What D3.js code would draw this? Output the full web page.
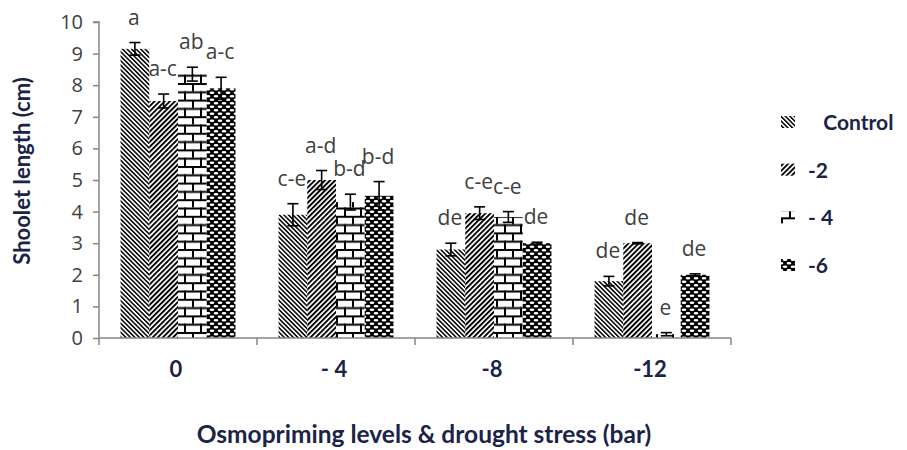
<!DOCTYPE html>
<html>
<head>
<meta charset="utf-8">
<script src="https://cdn.jsdelivr.net/npm/d3@7"></script>
<style>
  html, body { margin: 0; padding: 0; background: #fff; }
  svg { display: block; }
</style>
</head>
<body>
<svg id="chart" width="907" height="450"></svg>
<script>
// ---- data ----
const categories = ["0", "- 4", "-8", "-12"];
const seriesNames = ["Control", "-2", "- 4", "-6"];
const legendLabels = ["   Control", "-2", "- 4", "-6"];
const valControl = [9.15, 3.9, 2.8, 1.8];
const valM2      = [7.5, 5.0, 3.95, 3.0];
const valM4      = [8.35, 4.3, 3.83, 0.12];
const valM6      = [7.9, 4.5, 3.0, 2.0];
const errControl = [0.2, 0.35, 0.2, 0.15];
const errM2      = [0.22, 0.3, 0.2, 0.02];
const errM4      = [0.22, 0.25, 0.17, 0.05];
const errM6      = [0.35, 0.45, 0.03, 0.03];
const lblControl = ["a", "c-e", "de", "de"];
const lblM2      = ["a-c", "a-d", "c-e", "de"];
const lblM4      = ["ab", "b-d", "c-e", "e"];
const lblM6      = ["a-c", "b-d", "de", "de"];
const yTicks = [0,1,2,3,4,5,6,7,8,9,10];

const values = [valControl, valM2, valM4, valM6];
const errors = [errControl, errM2, errM4, errM6];
const labels = [lblControl, lblM2, lblM4, lblM6];

// ---- layout ----
const svg = d3.select("#chart");
const pLeft = 99, pRight = 731, pTop = 22, pBottom = 338;
const axisColor = "#868686";
const titleColor = "#1a2348";
const textColor = "#404040";

const x0 = d3.scaleBand().domain(categories).range([pLeft, pRight]).padding(0);
const x1 = d3.scaleBand().domain(seriesNames).range([0, x0.bandwidth()])
  .paddingInner(0).paddingOuter(0.75);
const y = d3.scaleLinear().domain([0, 10]).range([pBottom, pTop]);

// ---- patterns ----
const defs = svg.append("defs");
const p0 = defs.append("pattern").attr("id", "pat0").attr("patternUnits", "userSpaceOnUse")
  .attr("width", 3.2).attr("height", 3.2).attr("patternTransform", "rotate(-45)");
p0.append("rect").attr("width", 3.2).attr("height", 3.2).attr("fill", "#fff");
p0.append("rect").attr("width", 1.5).attr("height", 3.2).attr("fill", "#000");
const p1 = defs.append("pattern").attr("id", "pat1").attr("patternUnits", "userSpaceOnUse")
  .attr("width", 3.6).attr("height", 3.6).attr("patternTransform", "rotate(45)");
p1.append("rect").attr("width", 3.6).attr("height", 3.6).attr("fill", "#fff");
p1.append("rect").attr("width", 1.9).attr("height", 3.6).attr("fill", "#000");
const p2 = defs.append("pattern").attr("id", "pat2").attr("patternUnits", "userSpaceOnUse")
  .attr("width", 16).attr("height", 16.6);
p2.append("rect").attr("width", 16).attr("height", 16.6).attr("fill", "#fff");
p2.append("rect").attr("x", 0).attr("y", 0).attr("width", 16).attr("height", 2).attr("fill", "#000");
p2.append("rect").attr("x", 0).attr("y", 8.3).attr("width", 16).attr("height", 2).attr("fill", "#000");
p2.append("rect").attr("x", 0).attr("y", 0).attr("width", 2).attr("height", 8.3).attr("fill", "#000");
p2.append("rect").attr("x", 8).attr("y", 8.3).attr("width", 2).attr("height", 8.3).attr("fill", "#000");
const p3 = defs.append("pattern").attr("id", "pat3").attr("patternUnits", "userSpaceOnUse")
  .attr("width", 8).attr("height", 7);
p3.append("rect").attr("width", 8).attr("height", 7).attr("fill", "#000");
p3.append("ellipse").attr("cx", 4).attr("cy", 1.8).attr("rx", 2.4).attr("ry", 1.2).attr("fill", "#fff");
p3.append("ellipse").attr("cx", 0).attr("cy", 5.3).attr("rx", 2.4).attr("ry", 1.2).attr("fill", "#fff");
p3.append("ellipse").attr("cx", 8).attr("cy", 5.3).attr("rx", 2.4).attr("ry", 1.2).attr("fill", "#fff");
const patIds = ["url(#pat0)", "url(#pat1)", "url(#pat2)", "url(#pat3)"];

// ---- bars ----
const rows = [];
categories.forEach((c, ci) => {
  seriesNames.forEach((s, si) => {
    rows.push({ c, s, si, v: values[si][ci], e: errors[si][ci], lbl: labels[si][ci] });
  });
});

const g = svg.append("g");
g.selectAll("rect.bar").data(rows).join("rect")
  .attr("class", "bar")
  .attr("x", d => x0(d.c) + x1(d.s))
  .attr("y", d => y(d.v))
  .attr("width", x1.bandwidth())
  .attr("height", d => y(0) - y(d.v))
  .attr("fill", d => patIds[d.si]);

// ---- error bars ----
const cx = d => x0(d.c) + x1(d.s) + x1.bandwidth() / 2;
const eb = g.selectAll("g.err").data(rows).join("g").attr("class", "err")
  .attr("stroke", "#000").attr("stroke-width", 1.6);
eb.append("line").attr("x1", cx).attr("x2", cx)
  .attr("y1", d => y(d.v + d.e)).attr("y2", d => y(Math.max(0, d.v - d.e)));
eb.append("line").attr("x1", d => cx(d) - 5.5).attr("x2", d => cx(d) + 5.5)
  .attr("y1", d => y(d.v + d.e)).attr("y2", d => y(d.v + d.e));
eb.append("line").attr("x1", d => cx(d) - 5.5).attr("x2", d => cx(d) + 5.5)
  .attr("y1", d => y(Math.max(0, d.v - d.e))).attr("y2", d => y(Math.max(0, d.v - d.e)));

// ---- data labels ----
g.selectAll("text.lbl").data(rows).join("text")
  .attr("class", "lbl")
  .attr("x", d => cx(d) - 1)
  .attr("y", d => y(d.v + d.e) - 18)
  .attr("text-anchor", "middle")
  .attr("font-family", "'Open Sans', sans-serif")
  .attr("font-size", 21)
  .attr("fill", textColor)
  .text(d => d.lbl);

// ---- axes ----
const yAxis = d3.axisLeft(y).tickValues(yTicks).tickSize(6).tickPadding(10).tickFormat(d3.format("d"));
const ya = svg.append("g").attr("transform", `translate(${pLeft},0)`).call(yAxis);
ya.select(".domain").attr("stroke", axisColor).attr("stroke-width", 1.5)
  .attr("d", `M-6,${pTop}H0V${pBottom}`);
ya.selectAll(".tick line").attr("stroke", axisColor).attr("stroke-width", 1.5);
ya.selectAll(".tick text").attr("font-family", "'Open Sans', sans-serif")
  .attr("font-size", 20).attr("fill", textColor);

const xAxis = svg.append("g").attr("transform", `translate(0,${pBottom})`);
xAxis.append("line").attr("x1", pLeft).attr("x2", pRight).attr("y1", 0).attr("y2", 0)
  .attr("stroke", axisColor).attr("stroke-width", 1.5);
const boundaries = categories.map(c => x0(c)).concat([x0(categories[categories.length - 1]) + x0.bandwidth()]);
xAxis.selectAll("line.tk").data(boundaries).join("line").attr("class", "tk")
  .attr("x1", d => d).attr("x2", d => d).attr("y1", 0).attr("y2", 7)
  .attr("stroke", axisColor).attr("stroke-width", 1.5);
xAxis.selectAll("text.cat").data(categories).join("text").attr("class", "cat")
  .attr("x", d => x0(d) + x0.bandwidth() / 2 - 2)
  .attr("y", 39)
  .attr("text-anchor", "middle")
  .attr("font-family", "Lato, sans-serif").attr("font-weight", "bold")
  .attr("font-size", 22).attr("fill", titleColor)
  .style("white-space", "pre")
  .text(d => d);

// ---- titles ----
svg.append("text")
  .attr("x", 424).attr("y", 443)
  .attr("text-anchor", "middle")
  .attr("font-family", "Lato, sans-serif").attr("font-weight", "bold")
  .attr("font-size", 24.5).attr("fill", titleColor)
  .text("Osmopriming levels & drought stress (bar)");

svg.append("text")
  .attr("transform", "translate(30,171) rotate(-90)")
  .attr("text-anchor", "middle")
  .attr("font-family", "Lato, sans-serif").attr("font-weight", "bold")
  .attr("font-size", 22).attr("fill", titleColor)
  .text("Shoolet length (cm)");

// ---- legend ----
const lg = svg.append("g");
const legendY = d3.scalePoint().domain(seriesNames).range([122, 265]);
const li = lg.selectAll("g").data(seriesNames).join("g")
  .attr("transform", d => `translate(781,${legendY(d)})`);
li.append("rect").attr("x", 0).attr("y", -6).attr("width", 14).attr("height", 12)
  .attr("fill", (d, i) => patIds[i]);
li.append("text").attr("x", 27).attr("y", 8)
  .attr("font-family", "Lato, sans-serif").attr("font-weight", "bold")
  .attr("font-size", 21).attr("fill", titleColor)
  .style("white-space", "pre")
  .text((d, i) => legendLabels[i]);
</script>
</body>
</html>
